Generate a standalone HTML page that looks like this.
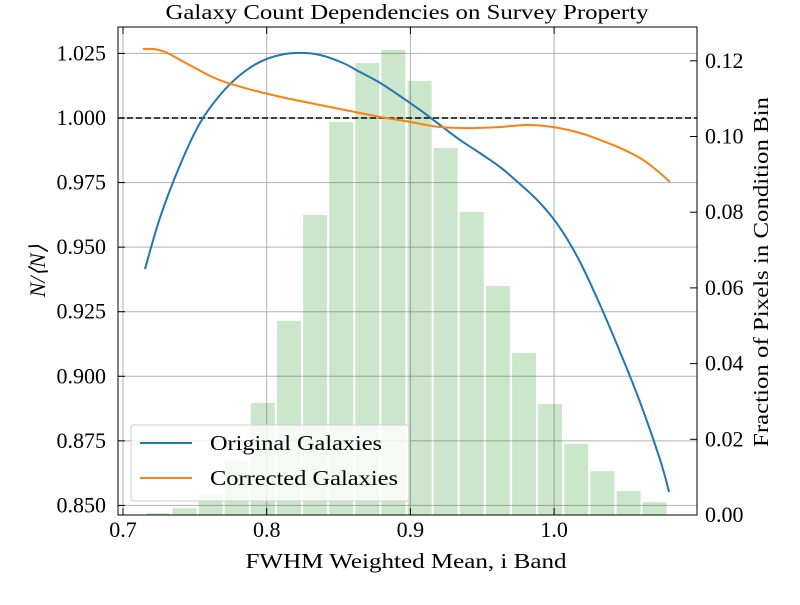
<!DOCTYPE html>
<html><head><meta charset="utf-8"><style>
body{margin:0;background:#fff}
svg text{font-family:"Liberation Serif",serif;fill:#000}
</style></head><body>
<svg id="chart" width="800" height="600" viewBox="0 0 800 600" xmlns="http://www.w3.org/2000/svg">
<rect width="800" height="600" fill="#fff"/>
<g id="grid"></g>
<g id="bars"></g>
<line id="refline" stroke="#000" stroke-width="1.5" stroke-dasharray="6,3"/>
<g id="lines"></g>
<g id="axes"></g>
<text x="407" y="19" font-size="21" text-anchor="middle" textLength="483" lengthAdjust="spacingAndGlyphs">Galaxy Count Dependencies on Survey Property</text>
<text x="406" y="568" font-size="21" text-anchor="middle" textLength="321" lengthAdjust="spacingAndGlyphs">FWHM Weighted Mean, i Band</text>
<text transform="translate(45,271) rotate(-90)" font-size="22" text-anchor="middle" font-style="italic">N/⟨N⟩</text>
<text transform="translate(768,272) rotate(-90)" font-size="21" text-anchor="middle" textLength="350" lengthAdjust="spacingAndGlyphs">Fraction of Pixels in Condition Bin</text>
<g>
<rect x="131" y="425" width="278" height="76" rx="3" fill="#fff" fill-opacity="0.8" stroke="#ccc" stroke-width="1"/>
<line x1="140" y1="443" x2="192" y2="443" stroke="#1f77b4" stroke-width="2"/>
<text x="210" y="450" font-size="21" textLength="172" lengthAdjust="spacingAndGlyphs">Original Galaxies</text>
<line x1="140" y1="478" x2="192" y2="478" stroke="#ff7f0e" stroke-width="2"/>
<text x="210" y="485" font-size="21" textLength="188" lengthAdjust="spacingAndGlyphs">Corrected Galaxies</text>
</g>
</svg>
<script>
const barCenters=[0.7246,0.7428,0.7610,0.7791,0.7973,0.8155,0.8337,0.8518,0.8700,0.8882,0.9064,0.9245,0.9427,0.9609,0.9791,0.9972,1.0154,1.0336,1.0518,1.0699];
const barFractions=[0.0005,0.0018,0.0055,0.0143,0.0296,0.0513,0.0793,0.1038,0.1194,0.1229,0.1147,0.0970,0.0801,0.0605,0.0428,0.0293,0.0188,0.0116,0.0063,0.0034];
const origX=[0.7153,0.7257,0.7397,0.7536,0.7675,0.7814,0.7953,0.8093,0.8232,0.8371,0.8531,0.8649,0.8789,0.8928,0.9067,0.9206,0.9345,0.9484,0.9624,0.9763,0.9902,1.0042,1.0181,1.0320,1.0459,1.0598,1.0738,1.0800];
const origY=[0.9415,0.9613,0.9818,0.9981,1.0089,1.0166,1.0217,1.0244,1.0252,1.0244,1.0213,1.0178,1.0136,1.0085,1.0031,0.9973,0.9915,0.9864,0.9810,0.9744,0.9671,0.9574,0.9442,0.9276,0.9094,0.8900,0.8676,0.8552];
const corrX=[0.7139,0.7209,0.7292,0.7397,0.7501,0.7605,0.7710,0.7849,0.8009,0.8162,0.8301,0.8510,0.8789,0.8997,0.9206,0.9415,0.9624,0.9811,0.9992,1.0181,1.0320,1.0459,1.0598,1.0703,1.0807];
const corrY=[1.0267,1.0267,1.0256,1.0225,1.0194,1.0163,1.0139,1.0116,1.0093,1.0074,1.0058,1.0035,1.0004,0.9985,0.9965,0.9961,0.9965,0.9973,0.9965,0.9942,0.9915,0.9884,0.9845,0.9803,0.9752];
const xTicks=[0.7,0.8,0.9,1.0];
const yTicks=[0.850,0.875,0.900,0.925,0.950,0.975,1.000,1.025];
const y2Ticks=[0,0.02,0.04,0.06,0.08,0.10,0.12];

const L=118,R=697,T=27,B=515;
const xs=v=>123+(v-0.7)*1437;
const ys=v=>118-(v-1.0)*2582.8;
const y2s=v=>515-v*3785;
const NS="http://www.w3.org/2000/svg";
function mk(tag,attrs,parent){const e=document.createElementNS(NS,tag);for(const k in attrs)e.setAttribute(k,attrs[k]);parent.appendChild(e);return e;}
const grid=document.getElementById('grid'),bars=document.getElementById('bars'),lines=document.getElementById('lines'),axes=document.getElementById('axes');
xTicks.forEach(t=>{const g=mk('line',{x1:xs(t),x2:xs(t),y1:T,y2:B,stroke:'#b0b0b0','stroke-width':1},grid);

});
yTicks.forEach(t=>{const g=mk('line',{x1:L,x2:R,y1:ys(t),y2:ys(t),stroke:'#b0b0b0','stroke-width':1},grid);

});
const bw=0.01817*0.92*1437;
barCenters.forEach((c,i)=>{const r=mk('rect',{x:xs(c)-bw/2,y:y2s(barFractions[i]),width:bw,height:B-y2s(barFractions[i]),fill:'#008000','fill-opacity':0.2},bars);

});
const rl=document.getElementById('refline');rl.setAttribute('x1',L);rl.setAttribute('x2',R);rl.setAttribute('y1',ys(1));rl.setAttribute('y2',ys(1));
function pathFrom(X,Y){const p=X.map((x,i)=>[xs(x),ys(Y[i])]);let d='M'+p[0][0]+','+p[0][1];
for(let i=0;i<p.length-1;i++){const p0=p[i-1]||p[i],p1=p[i],p2=p[i+1],p3=p[i+2]||p2;
d+=' C'+(p1[0]+(p2[0]-p0[0])/6)+','+(p1[1]+(p2[1]-p0[1])/6)+' '+(p2[0]-(p3[0]-p1[0])/6)+','+(p2[1]-(p3[1]-p1[1])/6)+' '+p2[0]+','+p2[1];}return d;}
const lo=mk('path',{d:pathFrom(origX,origY),fill:'none',stroke:'#1f77b4','stroke-width':2},lines);


const lc=mk('path',{d:pathFrom(corrX,corrY),fill:'none',stroke:'#ff7f0e','stroke-width':2},lines);


const fr=mk('rect',{x:L,y:T,width:R-L,height:B-T,fill:'none',stroke:'#000','stroke-width':1},axes);


xTicks.forEach(t=>{mk('line',{x1:xs(t),x2:xs(t),y1:B,y2:B-7,stroke:'#000'},axes);mk('line',{x1:xs(t),x2:xs(t),y1:T,y2:T+7,stroke:'#000'},axes);
const tx=mk('text',{x:xs(t),y:B+22,'font-size':22,'text-anchor':'middle'},axes);tx.textContent=t.toFixed(1);

});
yTicks.forEach(t=>{mk('line',{x1:L,x2:L+7,y1:ys(t),y2:ys(t),stroke:'#000'},axes);
const tx=mk('text',{x:L-12,y:ys(t)+7,'font-size':22,'text-anchor':'end'},axes);tx.textContent=t.toFixed(3);

});
y2Ticks.forEach(t=>{mk('line',{x1:R,x2:R-7,y1:y2s(t),y2:y2s(t),stroke:'#000'},axes);
const tx=mk('text',{x:R+8,y:y2s(t)+7,'font-size':22},axes);tx.textContent=t.toFixed(2);

});
</script>
</body></html>
